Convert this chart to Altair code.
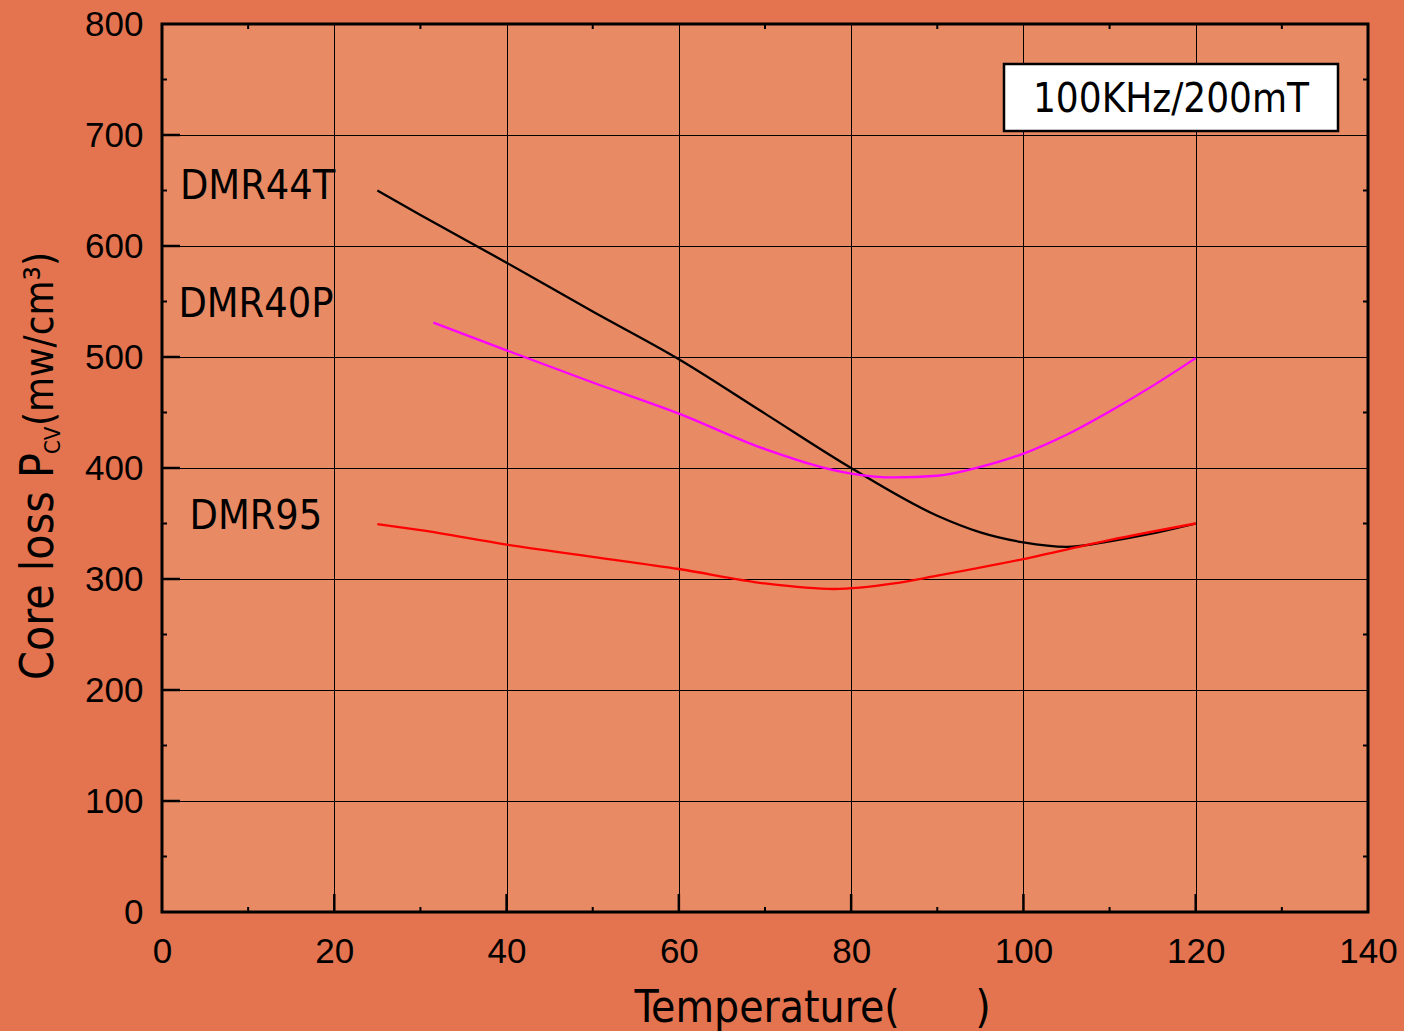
import altair as alt
import pandas as pd

# ---- data ----
t_44t = [25, 30, 40, 50, 60, 70, 80, 90, 95, 100, 105, 110, 115, 120]
v_44t = [650, 628, 585, 541, 498, 449, 400, 357, 342, 333, 329, 334, 341, 350]

t_40p = [31.5, 40, 50, 60, 70, 80, 85, 90, 95, 100, 105, 110, 115, 120]
v_40p = [531, 506, 477, 449, 417, 395, 391.5, 393, 401, 413, 430, 451, 474, 499]

t_95 = [25, 30, 40, 50, 60, 70, 78, 85, 90, 100, 110, 120]
v_95 = [349.5, 344, 331, 320, 309, 296, 291, 296, 303, 318, 335, 350]

series_names = ["DMR44T", "DMR40P", "DMR95"]
series_colors = ["#000000", "#FF00FF", "#FF0000"]

x_major = [20, 40, 60, 80, 100, 120]
x_minor = [10, 30, 50, 70, 90, 110, 130]
y_major = [100, 200, 300, 400, 500, 600, 700]
y_minor = [50, 150, 250, 350, 450, 550, 650, 750]

W, H = 1206, 888
FONT_NARROW = "Liberation Sans Narrow, DejaVu Sans Condensed, Liberation Sans"
FONT = "Liberation Sans, Arial"
NB = "\u00a0"

rows = []
for name, ts, vs in [("DMR44T", t_44t, v_44t), ("DMR40P", t_40p, v_40p), ("DMR95", t_95, v_95)]:
    for t, v in zip(ts, vs):
        rows.append({"series": name, "T": t, "P": v})
df = pd.DataFrame(rows)

xs = alt.Scale(domain=[0, 140], nice=False, zero=False)
ys = alt.Scale(domain=[0, 800], nice=False)

base_x = alt.X("T:Q", scale=xs,
               axis=alt.Axis(values=[0, 20, 40, 60, 80, 100, 120, 140], grid=True, ticks=False,
                             domain=False, labelFont=FONT, labelFontSize=35, labelColor="black",
                             labelPadding=22, labelFlush=False,
                             gridColor="black", gridWidth=1, gridOpacity=1,
                             title="Temperature(" + NB * 6 + ")", titleFont=FONT_NARROW, titleFontSize=44,
                             titleFontWeight="normal", titleColor="black", titlePadding=17,
                             titleX=650, titleAlign="center"))
base_y = alt.Y("P:Q", scale=ys,
               axis=alt.Axis(values=[0, 100, 200, 300, 400, 500, 600, 700, 800], grid=True, ticks=False,
                             domain=False, labelFont=FONT, labelFontSize=35, labelColor="black",
                             labelPadding=19, labelFlush=False,
                             gridColor="black", gridWidth=1, gridOpacity=1, title=None))

lines = alt.Chart(df).mark_line(strokeWidth=2.3, interpolate="monotone").encode(
    x=base_x, y=base_y,
    color=alt.Color("series:N", scale=alt.Scale(domain=series_names, range=series_colors), legend=None),
    detail="series:N",
)

# series labels (annotation positions in data units)
lab = pd.DataFrame({"name": series_names, "T": [11.1, 10.9, 10.9], "P": [653, 547, 356]})
labels = alt.Chart(lab).mark_text(font=FONT_NARROW, fontSize=41, color="black",
                                  align="center", baseline="middle").encode(
    x=alt.X("T:Q", scale=xs), y=alt.Y("P:Q", scale=ys), text="name:N")

# ticks (inward)
bx = alt.Chart(pd.DataFrame({"v": x_major})).mark_rule(color="black", strokeWidth=2.5).encode(
    x=alt.X("v:Q", scale=xs), y=alt.value(H), y2=alt.value(H - 18))
ly = alt.Chart(pd.DataFrame({"v": y_major})).mark_rule(color="black", strokeWidth=2.5).encode(
    y=alt.Y("v:Q", scale=ys), x=alt.value(0), x2=alt.value(18))
bxm = alt.Chart(pd.DataFrame({"v": x_minor})).mark_rule(color="black", strokeWidth=2).encode(
    x=alt.X("v:Q", scale=xs), y=alt.value(H), y2=alt.value(H - 5))
txm = alt.Chart(pd.DataFrame({"v": x_minor})).mark_rule(color="black", strokeWidth=2).encode(
    x=alt.X("v:Q", scale=xs), y=alt.value(0), y2=alt.value(5))
lym = alt.Chart(pd.DataFrame({"v": y_minor})).mark_rule(color="black", strokeWidth=2).encode(
    y=alt.Y("v:Q", scale=ys), x=alt.value(0), x2=alt.value(5))
rym = alt.Chart(pd.DataFrame({"v": y_minor})).mark_rule(color="black", strokeWidth=2).encode(
    y=alt.Y("v:Q", scale=ys), x=alt.value(W), x2=alt.value(W - 5))

# legend box
box = alt.Chart(pd.DataFrame({"k": [1]})).mark_rect(fill="white", stroke="black", strokeWidth=2.5).encode(
    x=alt.value(842), x2=alt.value(1176), y=alt.value(40), y2=alt.value(107))
box_text = alt.Chart(pd.DataFrame({"t": ["100KHz/200mT"]})).mark_text(
    font=FONT_NARROW, fontSize=40, color="black", align="center", baseline="middle").encode(
    x=alt.value(1009), y=alt.value(76), text="t:N")

# y-axis title in pieces (for the subscript)
yt1 = alt.Chart(pd.DataFrame({"t": ["Core loss P"]})).mark_text(
    font=FONT_NARROW, fontSize=46, color="black", angle=270, align="left", baseline="alphabetic").encode(
    x=alt.value(-109), y=alt.value(656), text="t:N")
yt2 = alt.Chart(pd.DataFrame({"t": ["CV"]})).mark_text(
    font=FONT_NARROW, fontSize=22, color="black", angle=270, align="left", baseline="alphabetic").encode(
    x=alt.value(-102), y=alt.value(430), text="t:N")
yt3 = alt.Chart(pd.DataFrame({"t": ["(mw/cm³)"]})).mark_text(
    font=FONT_NARROW, fontSize=40, color="black", angle=270, align="left", baseline="alphabetic").encode(
    x=alt.value(-109), y=alt.value(402), text="t:N")

chart = alt.layer(lines, labels, bx, ly, bxm, txm, lym, rym, box, box_text, yt1, yt2, yt3).properties(
    width=W, height=H,
    autosize=alt.AutoSizeParams(type="none"),
    padding={"left": 162, "top": 24, "right": 36, "bottom": 119},
).configure(background="#E3744F").configure_view(fill="#E88A64", stroke="black", strokeWidth=3)

chart.save("out.html", embed_options={"renderer": "svg", "actions": False})
